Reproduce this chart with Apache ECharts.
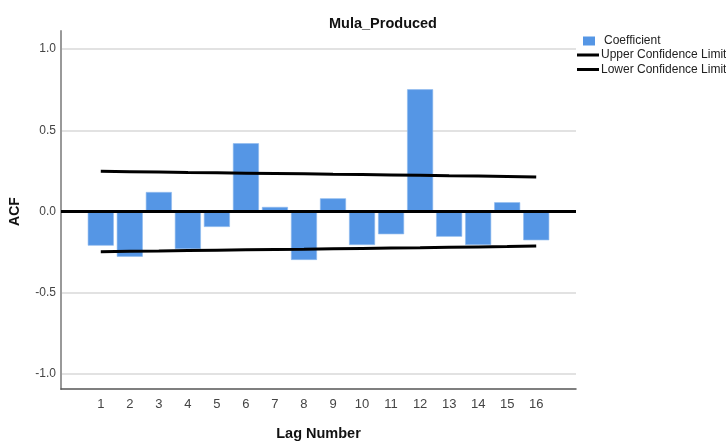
<!DOCTYPE html>
<html>
<head>
<meta charset="utf-8">
<style>
  html, body { margin: 0; padding: 0; background: #ffffff; }
  #chart { width: 726px; height: 446px; }
</style>
<script src="https://cdn.jsdelivr.net/npm/echarts@6/dist/echarts.min.js"></script>
</head>
<body>
<div id="chart"></div>
<script>
// Autocorrelation coefficients by lag
const lags = [1, 2, 3, 4, 5, 6, 7, 8, 9, 10, 11, 12, 13, 14, 15, 16];
const coefficient = [-0.210, -0.278, 0.120, -0.231, -0.095, 0.420, 0.028, -0.298,
                     0.081, -0.206, -0.140, 0.752, -0.155, -0.206, 0.057, -0.177];
const upperLimit = [0.247, 0.245, 0.243, 0.240, 0.238, 0.236, 0.234, 0.232,
                    0.229, 0.227, 0.225, 0.223, 0.220, 0.218, 0.216, 0.213];
const lowerLimit = [-0.247, -0.245, -0.243, -0.240, -0.238, -0.236, -0.234, -0.232,
                    -0.229, -0.227, -0.225, -0.223, -0.220, -0.218, -0.216, -0.213];
const yTicks = [-1.0, -0.5, 0.0, 0.5, 1.0];

const FONT = 'Liberation Sans, Arial, sans-serif';
const X_MIN = -0.37, X_MAX = 17.37;

const chart = echarts.init(document.getElementById('chart'), null, { renderer: 'canvas' });

const pairs = arr => arr.map((v, i) => [lags[i], v]);

chart.setOption({
  backgroundColor: '#ffffff',
  animation: false,
  title: {
    text: 'Mula_Produced',
    left: 378,
    top: 11,
    textAlign: 'center',
    textStyle: { fontFamily: FONT, fontSize: 14.5, fontWeight: 'bold', color: '#111' }
  },
  legend: [
    {
      data: [{ name: 'Coefficient', icon: 'rect' }],
      orient: 'vertical',
      left: 583, top: 35,
      padding: 0,
      itemWidth: 12, itemHeight: 9,
      selectedMode: false,
      itemStyle: { color: '#5596e5', borderWidth: 0 },
      textStyle: { fontFamily: FONT, fontSize: 12, color: '#222', padding: [0, 0, 0, 4] }
    },
    {
      data: [
        { name: 'Upper Confidence Limit', icon: 'rect' },
        { name: 'Lower Confidence Limit', icon: 'rect' }
      ],
      orient: 'vertical',
      left: 577, top: 49,
      padding: 0,
      itemWidth: 22, itemHeight: 3, itemGap: 2.5,
      selectedMode: false,
      itemStyle: { color: '#000' },
      textStyle: { fontFamily: FONT, fontSize: 12, color: '#222', padding: [0, 0, 0, -3] }
    }
  ],
  grid: [
    // frame holding the axis lines (extends past the ±1 range)
    { left: 61, width: 515, top: 31, height: 361, containLabel: false },
    // plotting area spanning -1 .. 1
    { left: 61, width: 515, top: 49, height: 325, containLabel: false }
  ],
  xAxis: [
    {
      gridIndex: 0, type: 'value', min: X_MIN, max: X_MAX,
      position: 'bottom',
      name: 'Lag Number', nameLocation: 'middle', nameGap: 37,
      nameTextStyle: { fontFamily: FONT, fontSize: 14.5, fontWeight: 'bold', color: '#111' },
      axisLine: { show: true, onZero: false, lineStyle: { color: '#555', width: 1.5 } },
      axisTick: { show: false },
      splitLine: { show: false },
      axisLabel: {
        customValues: lags,
        margin: 9,
        fontFamily: FONT, fontSize: 13, color: '#444'
      }
    },
    {
      gridIndex: 1, type: 'value', min: X_MIN, max: X_MAX,
      show: false
    }
  ],
  yAxis: [
    {
      gridIndex: 0, type: 'value', min: -1.11, max: 1.11,
      position: 'left',
      axisLine: { show: true, onZero: false, lineStyle: { color: '#999', width: 2 } },
      axisTick: { show: false },
      axisLabel: { show: false },
      splitLine: { show: false }
    },
    {
      gridIndex: 1, type: 'value', min: -1, max: 1, interval: 0.5,
      name: 'ACF', nameLocation: 'middle', nameGap: 39, nameRotate: 90,
      nameTextStyle: { fontFamily: FONT, fontSize: 14, fontWeight: 'bold', color: '#111' },
      axisLine: { show: false, onZero: false },
      axisTick: { show: false },
      axisLabel: {
        margin: 5,
        fontFamily: FONT, fontSize: 12, color: '#444',
        formatter: v => v.toFixed(1)
      },
      splitLine: { show: true, lineStyle: { color: '#d8d8d8', width: 1.5 } }
    }
  ],
  series: [
    {
      name: 'Coefficient',
      type: 'bar',
      xAxisIndex: 1, yAxisIndex: 1,
      data: pairs(coefficient),
      barWidth: 26,
      itemStyle: { color: '#5596e5', borderColor: '#8fbbee', borderWidth: 0.6 },
      z: 2
    },
    {
      name: 'Upper Confidence Limit',
      type: 'line',
      xAxisIndex: 1, yAxisIndex: 1,
      data: pairs(upperLimit),
      symbol: 'none',
      lineStyle: { color: '#000', width: 3 },
      itemStyle: { color: '#000' },
      z: 4
    },
    {
      name: 'Lower Confidence Limit',
      type: 'line',
      xAxisIndex: 1, yAxisIndex: 1,
      data: pairs(lowerLimit),
      symbol: 'none',
      lineStyle: { color: '#000', width: 3 },
      itemStyle: { color: '#000' },
      z: 4,
      // heavy reference line at zero
      markLine: {
        silent: true,
        symbol: 'none',
        label: { show: false },
        lineStyle: { color: '#000', width: 3, type: 'solid' },
        data: [{ yAxis: yTicks[2] }]
      }
    }
  ]
});
</script>
</body>
</html>
